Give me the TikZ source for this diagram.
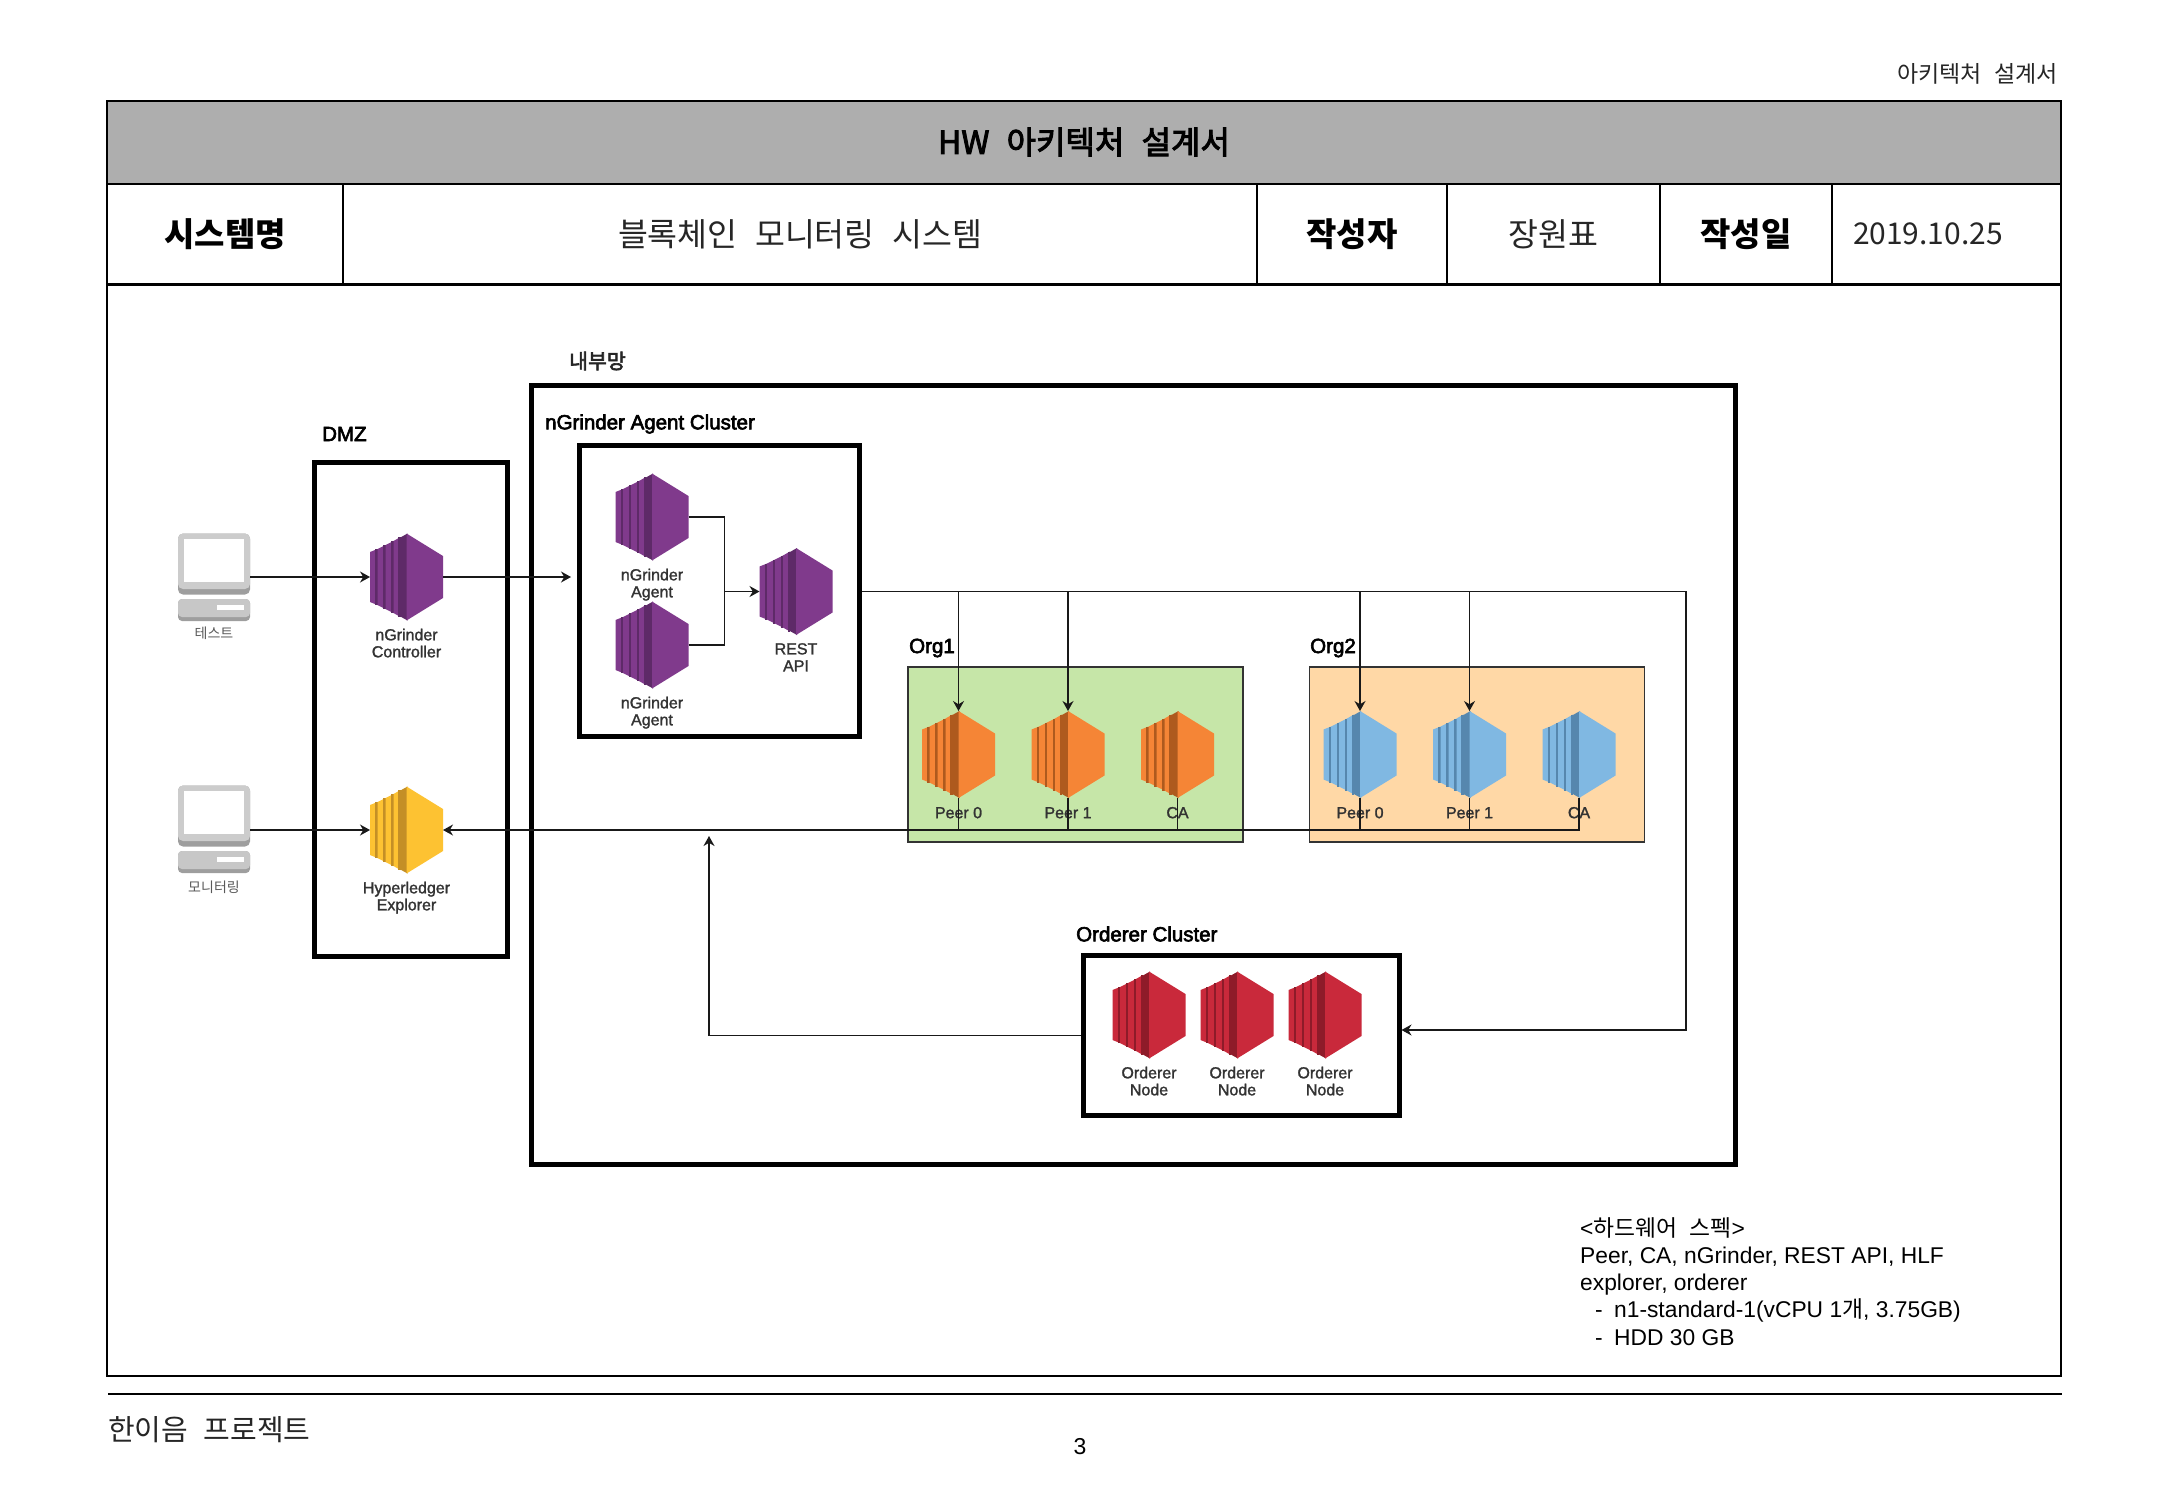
\documentclass[tikz,border=0pt]{standalone}
\usepackage{fontspec}
\usepackage{xcolor}
\usetikzlibrary{arrows.meta,positioning}
\setmainfont{Liberation Sans}
\newfontfamily\krfont[WordSpace=2.4]{Noto Sans CJK KR}
\newfontfamily\krsemi[WordSpace=2.4,FakeBold=3]{Noto Sans CJK KR}
\newfontfamily\labelfont[FakeBold=3]{Liberation Sans}
\newfontfamily\smallfont[FakeBold=1.5]{Liberation Sans}

\definecolor{bandgray}{HTML}{AEAEAE}
\definecolor{orggreen}{HTML}{C6E6A8}
\definecolor{orgpeach}{HTML}{FFD8A6}
\definecolor{purplemain}{HTML}{803A8C}
\definecolor{purpledark}{HTML}{5E2A68}
\definecolor{yellowmain}{HTML}{FDC232}
\definecolor{yellowdark}{HTML}{C48F26}
\definecolor{orangemain}{HTML}{F58536}
\definecolor{orangedark}{HTML}{AE5A1E}
\definecolor{bluemain}{HTML}{80B8E2}
\definecolor{bluedark}{HTML}{5687AE}
\definecolor{redmain}{HTML}{C9293B}
\definecolor{reddark}{HTML}{8E1B29}

\tikzset{
    cell/.style={draw=black, line width=2pt, inner sep=0pt, minimum height=101pt, anchor=center},
    heading/.style={font=\krfont\bfseries\fontsize{33}{38}\selectfont},
    plaintxt/.style={font=\krfont\fontsize{32.5}{38}\selectfont, text=black!85},
    thickbox/.style={draw=black, line width=5pt, inner sep=0pt, fill=white},
    orgbox/.style={draw=black!80, line width=1.5pt, inner sep=0pt, minimum width=335pt, minimum height=175pt},
    ecbox/.style={inner sep=0pt, outer sep=0pt, minimum width=73pt, minimum height=87pt},
    eclabel/.style={inner sep=0pt, align=center, text=black!80, font=\smallfont\fontsize{16}{17}\selectfont},
    oneline/.style={eclabel, text height=12pt},
    krlabel/.style={inner sep=0pt, text=black!65, font=\krfont\fontsize{14}{17}\selectfont},
    boxlabel/.style={inner sep=0pt, anchor=west, font=\labelfont\fontsize{20.5}{24}\selectfont},
    link/.style={line width=1.3pt, draw=black!90},
    linkto/.style={link, -{Stealth[length=10pt,width=11pt]}}
}

% one instance icon: name, centre, face colour, shade colour
\newcommand{\ecnode}[4]{
    \node[ecbox] (#1) at (#2) {};
    \begin{scope}[shift={(#2)}]
        \foreach \a/\b/\ta/\tb in {-36.5/-29/25/28, -29/-21/28/32, -21/-13/32/36, -13/-6/36/40}{
            \fill[#3] (\a,-\ta) -- (\b,-\tb) -- (\b,\tb) -- (\a,\ta) -- cycle;
            \fill[#4] (\b-2.5,-\tb) -- (\b,-\tb) -- (\b,\tb) -- (\b-2.5,\tb) -- cycle;
        }
        \fill[#4] (-7,-39) -- (1,-43.5) -- (1,43.5) -- (-7,39) -- cycle;
        \fill[#3] (0,-43.5) -- (36.5,-21) -- (36.5,21) -- (0,43.5) -- cycle;
    \end{scope}
}

% desktop computer: name, centre of the monitor
\newcommand{\pcnode}[2]{
    \node[ecbox, minimum width=72pt, minimum height=61pt] (#1) at (#2) {};
    \begin{scope}[shift={(#2)}]
        \fill[black!38, rounded corners=5pt] (-36,-30.5) rectangle (36,30.5);
        \fill[black!20, rounded corners=5pt] (-36,-30.5) rectangle (36,25);
        \fill[white] (-30,-25) rectangle (30,18);
        \fill[black!38, rounded corners=4pt] (-36,35) rectangle (36,57);
        \fill[black!22, rounded corners=4pt] (-36,35) rectangle (36,53);
        \fill[white] (3,41) rectangle (30,46);
    \end{scope}
}

\begin{document}
\begin{tikzpicture}[x=1pt, y=-1pt]
    \useasboundingbox (0,0) rectangle (2167,1500);

    % Page header and the table on top
    \node[inner sep=0pt, anchor=east, text=black!85, font=\krfont\fontsize{23}{27}\selectfont] (doctitle) at (2058,74) {아키텍처 설계서};
    \draw[line width=2pt] (107,284) rectangle (2061,1376);
    \node[cell, fill=bandgray, minimum width=1954pt, minimum height=83pt, font=\krsemi\fontsize{32}{36}\selectfont] (titlecell) at (1084,142) {HW 아키텍처 설계서};
    \node[cell, heading, minimum width=236pt] (namehead) at (225,234) {시스템명};
    \node[cell, plaintxt, minimum width=914pt] (namecell) at (800,234) {블록체인 모니터링 시스템};
    \node[cell, heading, minimum width=190pt] (authorhead) at (1352,234) {작성자};
    \node[cell, plaintxt, minimum width=213pt] (authorcell) at (1553.5,234) {장원표};
    \node[cell, heading, minimum width=172pt] (datehead) at (1746,234) {작성일};
    \node[cell, plaintxt, minimum width=229pt, text width=187pt, align=left, font=\krfont\fontsize{30}{36}\selectfont] (datecell) at (1946.5,234) {2019.10.25};

    % Zones
    \node[thickbox, minimum width=193pt, minimum height=494pt] (dmzbox) at (410.5,709) {};
    \node[thickbox, minimum width=1204pt, minimum height=779pt] (innerbox) at (1133,774.5) {};
    \node[thickbox, minimum width=280pt, minimum height=291pt] (agentbox) at (719,590.5) {};
    \node[orgbox, fill=orggreen] (org1box) at (1075.5,754.5) {};
    \node[orgbox, fill=orgpeach] (org2box) at (1477,754.5) {};
    \node[thickbox, minimum width=316pt, minimum height=160pt] (ordererbox) at (1241,1035.5) {};
    \node[boxlabel, text=black!85, font=\krsemi\fontsize{20.5}{24}\selectfont] (innerlabel) at (569,361) {내부망};
    \node[boxlabel] (dmzlabel) at (322,434) {DMZ};
    \node[boxlabel] (agentlabel) at (545,424) {nGrinder Agent Cluster};
    \node[boxlabel] (org1label) at (909,648) {Org1};
    \node[boxlabel] (org2label) at (1310,648) {Org2};
    \node[boxlabel] (ordererlabel) at (1076,934) {Orderer Cluster};

    % Computers
    \pcnode{testpc}{214,564}
    \pcnode{monpc}{214,816}
    \node[krlabel] (testtxt) at (214,633) {테스트};
    \node[krlabel] (montxt) at (214,887) {모니터링};

    % Instances
    \ecnode{ctrl}{406.5,577}{purplemain}{purpledark}
    \ecnode{hlf}{406.5,830}{yellowmain}{yellowdark}
    \ecnode{agent1}{652,517}{purplemain}{purpledark}
    \ecnode{agent2}{652,645}{purplemain}{purpledark}
    \ecnode{rest}{796,591.5}{purplemain}{purpledark}
    \ecnode{peerA}{958.5,754.5}{orangemain}{orangedark}
    \ecnode{peerB}{1068,754.5}{orangemain}{orangedark}
    \ecnode{caA}{1177.5,754.5}{orangemain}{orangedark}
    \ecnode{peerC}{1360,754.5}{bluemain}{bluedark}
    \ecnode{peerD}{1469.5,754.5}{bluemain}{bluedark}
    \ecnode{caB}{1579,754.5}{bluemain}{bluedark}
    \ecnode{ord1}{1149,1015}{redmain}{reddark}
    \ecnode{ord2}{1237,1015}{redmain}{reddark}
    \ecnode{ord3}{1325,1015}{redmain}{reddark}

    % Instance labels
    \node[eclabel, below=8pt of ctrl] (ctrltxt) {nGrinder\\Controller};
    \node[eclabel, below=8pt of hlf] (hlftxt) {Hyperledger\\Explorer};
    \node[eclabel, below=8pt of agent1] (agent1txt) {nGrinder\\Agent};
    \node[eclabel, below=8pt of agent2] (agent2txt) {nGrinder\\Agent};
    \node[eclabel, below=8pt of rest] (resttxt) {REST\\API};
    \node[oneline, below=8pt of peerA] (peerAtxt) {Peer 0};
    \node[oneline, below=8pt of peerB] (peerBtxt) {Peer 1};
    \node[oneline, below=8pt of caA] (caAtxt) {CA};
    \node[oneline, below=8pt of peerC] (peerCtxt) {Peer 0};
    \node[oneline, below=8pt of peerD] (peerDtxt) {Peer 1};
    \node[oneline, below=8pt of caB] (caBtxt) {CA};
    \node[eclabel, below=8pt of ord1] (ord1txt) {Orderer\\Node};
    \node[eclabel, below=8pt of ord2] (ord2txt) {Orderer\\Node};
    \node[eclabel, below=8pt of ord3] (ord3txt) {Orderer\\Node};

    % Connectors
    \coordinate (agentin) at (571,577);
    \coordinate (agentjoin) at (724.5,591.5);
    \coordinate (trunk) at (1686,1030);
    \coordinate (backup) at (709,836);
    \draw[linkto] (testpc.east |- ctrl.west) -- (ctrl.west);
    \draw[linkto] (monpc.east |- hlf.west) -- (hlf.west);
    \draw[linkto] (ctrl.east) -- (agentin);
    \draw[link] (agent1.east) -| (agentjoin);
    \draw[link] (agent2.east) -| (agentjoin);
    \draw[linkto] (agentjoin) -- (rest.west);
    \draw[linkto] (agentbox.east |- rest.east) -| (trunk) -- (ordererbox.east |- trunk);
    \foreach \n in {peerA,peerB,peerC,peerD}{
        \draw[linkto] (\n.north |- rest.east) -- (\n.north);
    }
    \foreach \n in {peerA,peerB,caA,peerC,peerD}{
        \draw[link] (\n.south) -- (\n.south |- hlf.east);
    }
    \draw[linkto] (caB.south) |- (hlf.east);
    \draw[linkto] (ordererbox.west) -| (backup);

    % Hardware note
    \node[inner sep=0pt, anchor=north west, align=left, font=\fontsize{22.8}{27.3}\selectfont] (specnote) at (1580,1217) {%
        <{\krfont 하드웨어 스펙}>\\
        Peer, CA, nGrinder, REST API, HLF\\
        explorer, orderer\\
        \hspace*{15pt}-\hspace{5pt} n1-standard-1(vCPU 1{\krfont 개}, 3.75GB)\\
        \hspace*{15pt}-\hspace{5pt} HDD 30 GB};

    % Footer
    \coordinate (footleft) at (108,1394);
    \coordinate (footright) at (2062,1394);
    \draw[line width=2pt] (footleft) -- (footright);
    \node[inner sep=0pt, anchor=west, text=black!85, font=\krfont\fontsize{29}{34}\selectfont] (project) at (108,1430) {한이음 프로젝트};
    \node[inner sep=0pt, font=\fontsize{23}{28}\selectfont] (pagenum) at (1080,1447) {3};
\end{tikzpicture}
\end{document}
